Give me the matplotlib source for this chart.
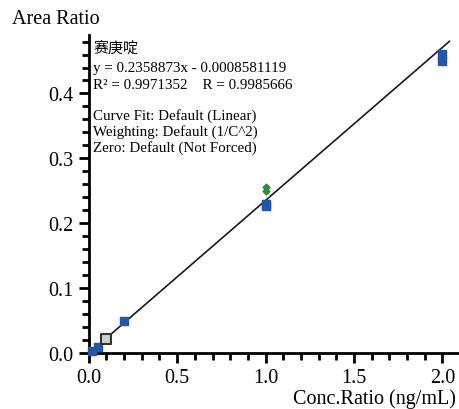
import numpy as np
import matplotlib.pyplot as plt
from matplotlib.ticker import MultipleLocator

plt.rcParams['font.family'] = ['Liberation Serif', 'Noto Sans CJK SC']
plt.rcParams['font.size'] = 12

# calibration data
std_x = [0.02, 0.05, 0.2, 1.0, 1.0, 2.0, 2.0]
std_y = [0.003, 0.009, 0.049, 0.226, 0.229, 0.4505, 0.4612]
qc_x = [0.1]
qc_y = [0.0215]
excl_x = [1.0, 1.0]
excl_y = [0.249, 0.256]

slope = 0.2358873
intercept = -0.0008581119
info_lines = ['赛庚啶',
              'y = 0.2358873x - 0.0008581119',
              'R² = 0.9971352    R = 0.9985666',
              'Curve Fit: Default (Linear)',
              'Weighting: Default (1/C^2)',
              'Zero: Default (Not Forced)']

fig = plt.figure(figsize=(4.6, 4.1), dpi=100)
ax = fig.add_axes([0.193, 0.137, 0.807, 0.775])

xs = np.array([0.0, 2.04])
ax.plot(xs, slope * xs + intercept, color='#1a1a1a', lw=1.2, zorder=2)

ax.scatter(std_x, std_y, marker='s', s=38, color='#2256a8', zorder=3, clip_on=False)
ax.scatter(qc_x, qc_y, marker='s', s=62, facecolor='#d0d0d0', edgecolor='#333333',
           linewidth=1.5, zorder=3, clip_on=False)
ax.scatter(excl_x, excl_y, marker='D', s=12, color='#2e8b3a', zorder=3)

ax.set_xlim(0, 2.1)
ax.set_ylim(0, 0.49)
ax.xaxis.set_major_locator(MultipleLocator(0.5))
ax.xaxis.set_minor_locator(MultipleLocator(0.1))
ax.yaxis.set_major_locator(MultipleLocator(0.1))
ax.yaxis.set_minor_locator(MultipleLocator(0.02))
ax.xaxis.set_major_formatter(lambda v, p: f'{v:.1f}')
ax.yaxis.set_major_formatter(lambda v, p: f'{v:.1f}')

for s in ['top', 'right']:
    ax.spines[s].set_visible(False)
for s in ['left', 'bottom']:
    ax.spines[s].set_linewidth(2)
ax.tick_params(which='major', length=7, width=2, labelsize=14.5, pad=4)
ax.tick_params(which='minor', length=5, width=2)

fig.text(0.025, 0.975, 'Area Ratio', fontsize=14.5, va='top', ha='left')
fig.text(0.99, 0.003, 'Conc.Ratio (ng/mL)', fontsize=14.5, va='bottom', ha='right')

text_y = [0.881, 0.834, 0.792, 0.716, 0.678, 0.640]
for t, ty in zip(info_lines, text_y):
    fig.text(0.203, ty, t, fontsize=10.8, va='center', ha='left')

fig.savefig('out.png', dpi=100)
